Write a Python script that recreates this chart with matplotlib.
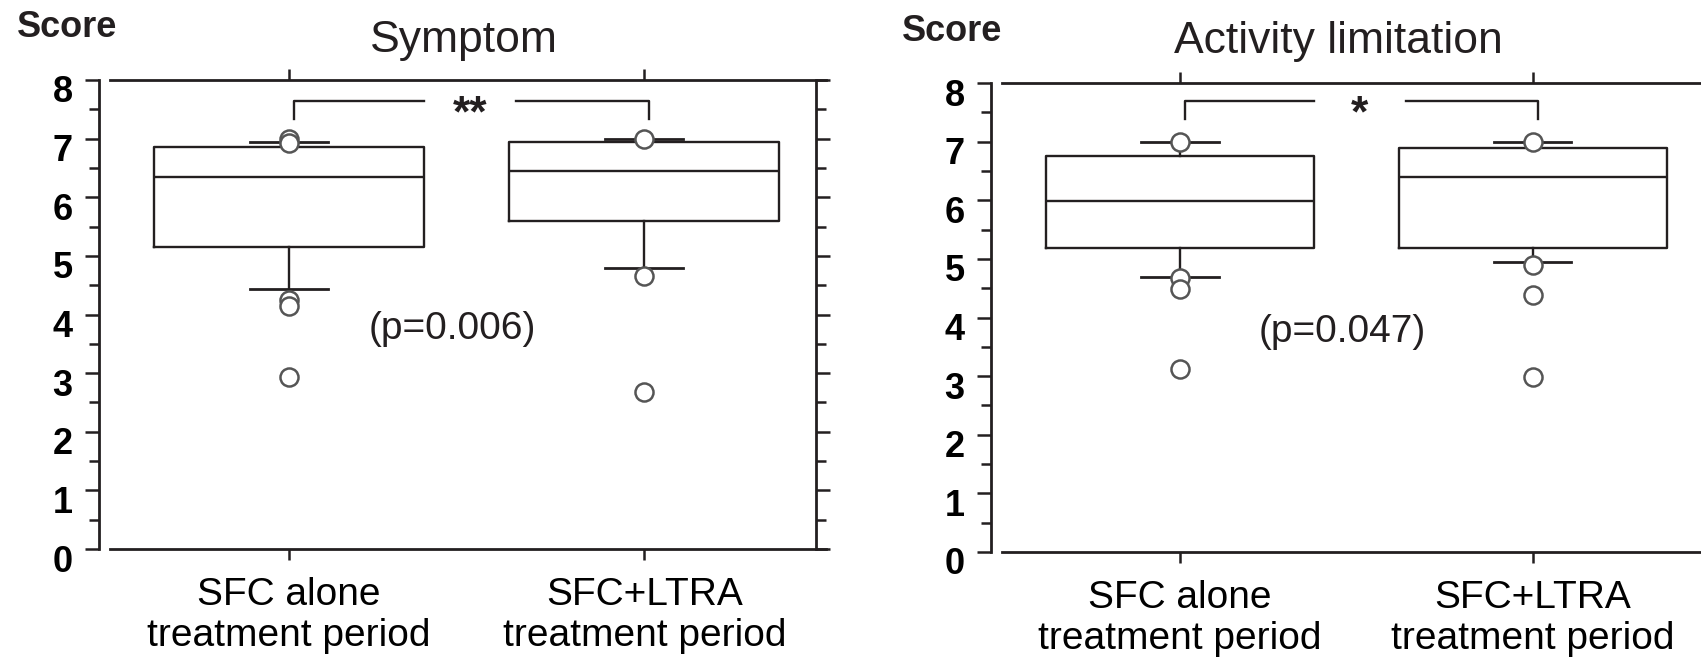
import matplotlib
matplotlib.use("Agg")
import matplotlib.pyplot as plt
from matplotlib.ticker import MultipleLocator, FixedLocator
from matplotlib.transforms import ScaledTranslation

plt.rcParams['font.family'] = ['Liberation Sans', 'DejaVu Sans']

groups = ["SFC alone\ntreatment period", "SFC+LTRA\ntreatment period"]

# Symptom domain score summaries
symptom_q1 = [5.15, 5.60]
symptom_med = [6.35, 6.45]
symptom_q3 = [6.85, 6.95]
symptom_lo = [4.44, 4.80]
symptom_hi = [6.94, 7.00]
symptom_out = [[7.00, 6.92, 4.25, 4.15, 2.93], [7.00, 4.66, 2.68]]
symptom_p = "(p=0.006)"
symptom_sig = "**"

# Activity limitation domain score summaries
activity_q1 = [5.19, 5.19]
activity_med = [5.99, 6.40]
activity_q3 = [6.76, 6.89]
activity_lo = [4.69, 4.94]
activity_hi = [7.00, 7.00]
activity_out = [[7.00, 4.68, 4.48, 3.12], [7.00, 4.89, 4.39, 2.99]]
activity_p = "(p=0.047)"
activity_sig = "*"

INK = '#231f20'
W, H = 1701, 658
fig = plt.figure(figsize=(W / 100, H / 100), dpi=100)


def frac(x, y):
    return x / W, 1 - y / H


def panel(rect_px, q1, med, q3, lo, hi, out, title, title_xy, score_xy,
          ptext, sig, bracket_y):
    x0, y0, x1, y1 = rect_px
    ax = fig.add_axes([x0 / W, 1 - y1 / H, (x1 - x0) / W, (y1 - y0) / H])
    stats = []
    for i in range(len(groups)):
        stats.append(dict(q1=q1[i], med=med[i], q3=q3[i], whislo=lo[i],
                          whishi=hi[i], fliers=out[i]))
    line = dict(color=INK, linewidth=1.7)
    ax.bxp(stats, positions=[1, 2], widths=0.76, capwidths=0.22,
           boxprops=line, medianprops=line, whiskerprops=line,
           capprops=dict(color=INK, linewidth=2.0),
           flierprops=dict(marker='o', markersize=13, markerfacecolor='white',
                           markeredgecolor='#555555', markeredgewidth=1.8,
                           linestyle='none', zorder=5))
    ax.set_xlim(0.465, 2.483)
    ax.set_ylim(0, 8)

    # frame: vertical spines kept, horizontal ones drawn slightly offset
    for s in ('top', 'bottom'):
        ax.spines[s].set_visible(False)
    for s in ('left', 'right'):
        ax.spines[s].set_linewidth(2.0)
        ax.spines[s].set_color(INK)
    for yv in (0, 8):
        ax.axhline(yv, xmin=0.015, xmax=1.014, color=INK, lw=2.0,
                   clip_on=False, zorder=6)

    ax.xaxis.set_major_locator(FixedLocator([1, 2]))
    ax.set_xticklabels(groups, fontsize=28, linespacing=1.18)
    ax.tick_params(axis='x', which='major', top=True, bottom=True,
                   direction='out', length=8, width=1.8, color=INK, pad=12)

    ax.yaxis.set_major_locator(MultipleLocator(1))
    ax.yaxis.set_minor_locator(MultipleLocator(0.5))
    ax.tick_params(axis='y', which='both', left=True, right=True,
                   direction='out', width=1.8, color=INK)
    ax.tick_params(axis='y', which='major', length=10, pad=9,
                   labelsize=26)
    ax.tick_params(axis='y', which='minor', length=7)
    for lab in ax.get_yticklabels():
        lab.set_fontweight('bold')
        lab.set_transform(lab.get_transform() +
                          ScaledTranslation(0, -9 / 100, fig.dpi_scale_trans))

    # significance bracket
    top, foot = bracket_y
    ax.plot([1.014, 1.014, 1.38], [foot, top, top], color=INK, lw=1.7)
    ax.plot([1.64, 2.014, 2.014], [top, top, foot], color=INK, lw=1.7)
    ax.text(1.51, top - 0.24, sig, ha='center', va='center', fontsize=32,
            fontweight='bold', color=INK)
    ax.text(1.46, 3.75, ptext, ha='center', va='center', fontsize=28,
            color=INK)

    fig.text(*frac(*title_xy), title, ha='center', va='baseline',
             fontsize=32, color=INK)
    fig.text(*frac(*score_xy), "Score", ha='left', va='baseline',
             fontsize=26, fontweight='bold', color=INK)
    return ax


panel((99, 80, 816, 549), symptom_q1, symptom_med, symptom_q3, symptom_lo,
      symptom_hi, symptom_out, "Symptom", (464, 52), (17, 37),
      symptom_p, symptom_sig, (7.65, 7.34))
panel((991, 83, 1703, 552), activity_q1, activity_med, activity_q3,
      activity_lo, activity_hi, activity_out, "Activity limitation",
      (1338, 53), (902, 41), activity_p, activity_sig, (7.70, 7.39))

fig.savefig("out.png", dpi=100)
